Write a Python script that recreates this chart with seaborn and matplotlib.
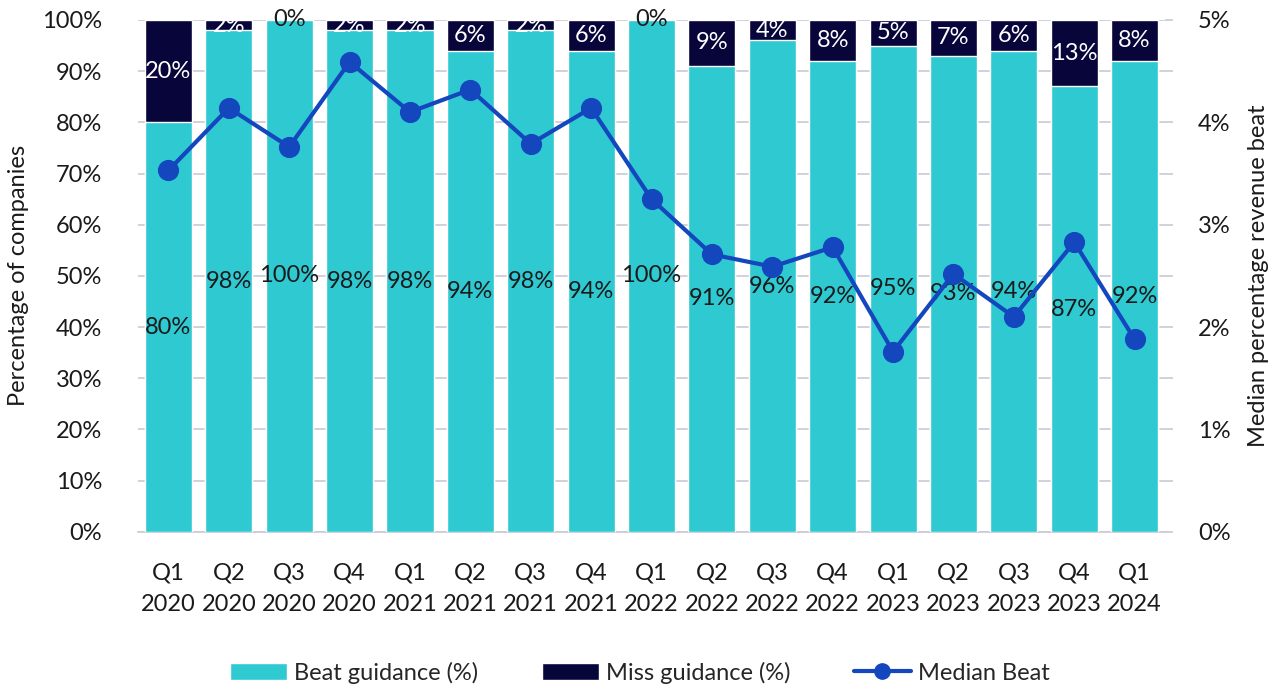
import numpy as np
import pandas as pd
import seaborn as sns
import matplotlib.pyplot as plt
from matplotlib.patches import Patch
from matplotlib.lines import Line2D
from matplotlib.ticker import PercentFormatter, MultipleLocator

quarters = ["Q1\n2020", "Q2\n2020", "Q3\n2020", "Q4\n2020",
            "Q1\n2021", "Q2\n2021", "Q3\n2021", "Q4\n2021",
            "Q1\n2022", "Q2\n2022", "Q3\n2022", "Q4\n2022",
            "Q1\n2023", "Q2\n2023", "Q3\n2023", "Q4\n2023",
            "Q1\n2024"]
beat = [80, 98, 100, 98, 98, 94, 98, 94, 100, 91, 96, 92, 95, 93, 94, 87, 92]
miss = [20, 2, 0, 2, 2, 6, 2, 6, 0, 9, 4, 8, 5, 7, 6, 13, 8]
median_beat = [3.53, 4.14, 3.76, 4.59, 4.10, 4.32, 3.79, 4.14, 3.25,
               2.71, 2.59, 2.78, 1.76, 2.52, 2.10, 2.83, 1.88]

CYAN = "#2FC9D2"
NAVY = "#07053A"
BLUE = "#1446BE"
GRID = "#C9CAD6"
TEXT = "#1a1a1a"
FS = 17

sns.set_style("white")
plt.rcParams['font.family'] = ['Lato', 'DejaVu Sans']

df = pd.DataFrame({"q": quarters, "beat": beat, "miss": miss,
                   "total": np.array(beat) + np.array(miss), "med": median_beat})

fig = plt.figure(figsize=(12.8, 6.88), dpi=100)
ax = fig.add_axes([0.108, 0.227, 0.802, 0.744])

sns.barplot(data=df, x="q", y="total", color=NAVY, width=0.78, saturation=1, ax=ax, zorder=2)
sns.barplot(data=df, x="q", y="beat", color=CYAN, width=0.78, saturation=1, ax=ax, zorder=3)

ax.set_ylim(0, 100)
ax.yaxis.set_major_locator(MultipleLocator(10))
ax.yaxis.set_major_formatter(PercentFormatter(decimals=0))
ax.grid(axis="y", color=GRID, linewidth=1.2, zorder=0)
ax.set_axisbelow(True)
for s in ["top", "right", "left"]:
    ax.spines[s].set_visible(False)
ax.spines["bottom"].set_color(GRID)
ax.spines["bottom"].set_linewidth(1.2)
ax.tick_params(axis="y", length=0, labelsize=FS, colors=TEXT, pad=26)
ax.tick_params(axis="x", length=0, labelsize=FS, colors=TEXT, pad=22)
for t in ax.get_xticklabels():
    t.set_linespacing(1.6)
ax.set_xlabel("")
ax.set_ylabel("Percentage of companies", fontsize=FS, color=TEXT)
ax.yaxis.set_label_coords(-0.106, 0.5)
ax.set_xlim(-0.5, len(quarters) - 0.5)

# labels
for i, (b, m) in enumerate(zip(beat, miss)):
    ax.text(i, b / 2, f"{b}%", ha="center", va="center", fontsize=FS, color=TEXT, zorder=6)
    if m > 0:
        ax.text(i, b + m / 2, f"{m}%", ha="center", va="center", fontsize=FS, color="white", zorder=6)
    else:
        ax.text(i, 100, f"{m}%", ha="center", va="center", fontsize=FS, color=TEXT, zorder=6)

ax2 = ax.twinx()
sns.pointplot(data=df, x="q", y="med", color=BLUE, markers="o", linestyles="-",
              ax=ax2, markersize=13, linewidth=3)
ax2.set_ylim(0, 5)
ax2.set_xlim(-0.5, len(quarters) - 0.5)
ax2.yaxis.set_major_locator(MultipleLocator(1))
ax2.yaxis.set_minor_locator(MultipleLocator(0.5))
ax2.yaxis.set_major_formatter(PercentFormatter(decimals=0))
for s in ["top", "right", "left", "bottom"]:
    ax2.spines[s].set_visible(False)
ax2.tick_params(axis="y", which="both", length=6, width=1.2, color=GRID,
                labelsize=FS, labelcolor=TEXT, pad=18)
ax2.set_ylabel("Median percentage revenue beat", fontsize=FS, color=TEXT)
ax2.yaxis.set_label_coords(1.081, 0.5)
ax2.set_xlabel("")

handles = [Patch(facecolor=CYAN, label="Beat guidance (%)"),
           Patch(facecolor=NAVY, label="Miss guidance (%)"),
           Line2D([0], [0], color=BLUE, lw=3, marker="o", markersize=11, label="Median Beat")]
fig.legend(handles=handles, loc="center", bbox_to_anchor=(0.5, 0.022), ncol=3, frameon=False,
           fontsize=FS, handlelength=2.4, handleheight=0.75, columnspacing=2.7, handletextpad=0.3)

fig.savefig("out.png", dpi=100)
